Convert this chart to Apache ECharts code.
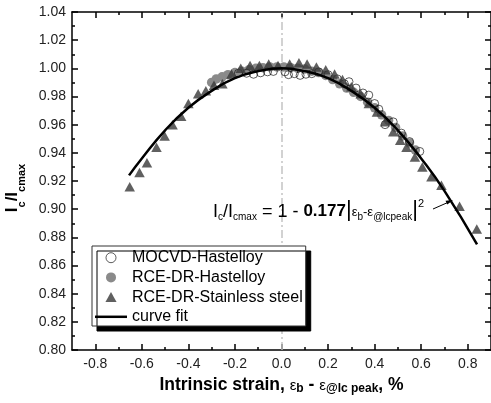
<!DOCTYPE html>
<html lang="en">
<head>
  <meta charset="UTF-8">
  <title>Ic/Icmax vs intrinsic strain</title>
  <script src="https://cdn.jsdelivr.net/npm/echarts@6/dist/echarts.min.js"></script>
  <style>
    html, body { margin: 0; padding: 0; background: #fff; }
    #main { width: 491px; height: 403px; }
  </style>
</head>
<body>
<div id="main"></div>
<script type="text/javascript">
  // [strain %, Ic/Icmax]
  var mocvdHast = [
    [-0.185, 0.9965], [-0.150, 0.9965], [-0.120, 0.9958], [-0.090, 0.9968], [-0.060, 0.9975],
    [-0.035, 0.9978], [0.015, 0.9975], [0.030, 0.9955], [0.055, 0.9962], [0.080, 0.9950],
    [0.105, 0.9958], [0.130, 0.9962], [0.160, 0.9975], [0.200, 0.9955], [0.240, 0.9925],
    [0.270, 0.9890], [0.290, 0.9905], [0.320, 0.9860], [0.350, 0.9825], [0.375, 0.9810],
    [0.400, 0.9750], [0.418, 0.9710], [0.445, 0.9600], [0.480, 0.9620], [0.515, 0.9540],
    [0.550, 0.9480], [0.594, 0.9410]
  ];
  var rceHast = [
    [-0.300, 0.9900], [-0.280, 0.9925], [-0.255, 0.9940], [-0.230, 0.9955], [-0.200, 0.9970],
    [-0.170, 0.9980], [-0.140, 0.9990], [-0.110, 1.0000], [-0.080, 1.0005], [-0.050, 1.0010],
    [-0.020, 1.0010], [0.010, 1.0010], [0.040, 1.0005], [0.070, 1.0000], [0.100, 0.9995],
    [0.130, 0.9980], [0.160, 0.9970], [0.190, 0.9950], [0.220, 0.9920], [0.250, 0.9890],
    [0.280, 0.9860], [0.310, 0.9830], [0.340, 0.9800], [0.370, 0.9760], [0.400, 0.9720],
    [0.430, 0.9670], [0.460, 0.9630], [0.490, 0.9580], [0.520, 0.9520], [0.550, 0.9470],
    [0.575, 0.9420]
  ];
  var rceSteel = [
    [-0.652, 0.916], [-0.610, 0.926], [-0.578, 0.933], [-0.537, 0.944], [-0.502, 0.952],
    [-0.468, 0.960], [-0.431, 0.966], [-0.400, 0.975], [-0.358, 0.982], [-0.325, 0.984],
    [-0.290, 0.988], [-0.254, 0.989], [-0.215, 0.996], [-0.175, 1.000], [-0.135, 1.002],
    [-0.095, 1.002], [-0.055, 1.003], [-0.015, 1.002], [0.035, 1.003], [0.075, 1.004],
    [0.110, 1.003], [0.150, 1.001], [0.190, 0.999], [0.228, 0.996], [0.262, 0.992],
    [0.300, 0.987], [0.340, 0.982], [0.375, 0.975], [0.410, 0.969], [0.445, 0.962],
    [0.480, 0.955], [0.510, 0.949], [0.537, 0.944], [0.573, 0.937], [0.605, 0.930],
    [0.644, 0.923], [0.687, 0.917], [0.765, 0.902], [0.839, 0.886]
  ];
  // curve fit
  var fitCurve = [
    [-0.655, 0.924], [-0.60, 0.936], [-0.50, 0.956], [-0.40, 0.972], [-0.30, 0.984],
    [-0.20, 0.993], [-0.10, 0.998], [0.00, 1.000], [0.10, 0.998], [0.20, 0.993],
    [0.30, 0.984], [0.40, 0.972], [0.50, 0.956], [0.60, 0.936], [0.70, 0.913],
    [0.84, 0.875]
  ];
  var seriesNames = ['MOCVD-Hastelloy', 'RCE-DR-Hastelloy', 'RCE-DR-Stainless steel', 'curve fit'];
  var xMajorTicks = [-0.8, -0.6, -0.4, -0.2, 0, 0.2, 0.4, 0.6, 0.8];
  var xMinorTicks = [-0.7, -0.5, -0.3, -0.1, 0.1, 0.3, 0.5, 0.7];

  var FONT = 'Liberation Sans, Arial, sans-serif';
  var axisCol = '#000';
  var steelCol = '#383838', hastCol = '#8a8a8a';

  function xAxisOf(pos, major, withLabels) {
    return {
      type: 'value', position: pos, min: -0.9, max: 0.9,
      axisLine: { show: major, onZero: false, lineStyle: { color: axisCol, width: 1.5 } },
      axisTick: {
        show: true, inside: true, length: major ? 6 : 3,
        customValues: major ? xMajorTicks : xMinorTicks,
        lineStyle: { color: axisCol, width: 1.5 }
      },
      axisLabel: {
        show: withLabels, customValues: xMajorTicks, margin: 7,
        fontFamily: FONT, fontSize: 14, color: '#222',
        formatter: function (v) { return v.toFixed(1); }
      },
      splitLine: { show: false }
    };
  }

  var xAxes = [
    xAxisOf('bottom', true, true),
    xAxisOf('bottom', false, false),
    xAxisOf('top', true, false),
    xAxisOf('top', false, false)
  ];
  xAxes[0].name = '{b|Intrinsic strain, }{e|ε}{s|b}{b| - }{e|ε}{s|@lc peak}{b|, %}';
  xAxes[0].nameLocation = 'middle';
  xAxes[0].nameGap = 24;
  xAxes[0].nameTextStyle = {
    rich: {
      b: { fontFamily: FONT, fontSize: 17.5, fontWeight: 'bold', color: '#000' },
      e: { fontFamily: FONT, fontSize: 15, color: '#000', padding: [2, 0, 0, 0] },
      s: { fontFamily: FONT, fontSize: 12, fontWeight: 'bold', color: '#000', padding: [8, 0, 0, 0] }
    }
  };

  function yAxisOf(pos, withLabels) {
    return {
      type: 'value', position: pos, min: 0.80, max: 1.04, interval: 0.02,
      axisLine: { show: true, onZero: false, lineStyle: { color: axisCol, width: 1.5 } },
      axisTick: { show: true, inside: true, length: 6, lineStyle: { color: axisCol, width: 1.5 } },
      minorTick: { show: true, splitNumber: 2, length: 3, lineStyle: { color: axisCol, width: 1.5 } },
      axisLabel: {
        show: withLabels, margin: 6, fontFamily: FONT, fontSize: 14, color: '#222',
        formatter: function (v) { return v.toFixed(2); }
      },
      splitLine: { show: false }
    };
  }

  var myChart = echarts.init(document.getElementById('main'));

  var option = {
    animation: false,
    backgroundColor: '#fff',
    grid: { left: 72, top: 12, width: 421, height: 338, containLabel: false },
    xAxis: xAxes,
    yAxis: [yAxisOf('left', true), yAxisOf('right', false)],
    legend: {
      orient: 'vertical', left: 92, top: 246,
      data: [
        { name: seriesNames[0], icon: 'circle',
          itemStyle: { color: '#fff', borderColor: '#000', borderWidth: 0.8 } },
        { name: seriesNames[1], icon: 'circle', itemStyle: { color: hastCol, borderWidth: 0 } },
        { name: seriesNames[2], icon: 'path://M0,9L5,0L10,9Z', itemStyle: { color: steelCol, borderWidth: 0 } },
        { name: seriesNames[3], icon: 'path://M0,0L32,0L32,2.5L0,2.5Z', itemStyle: { color: '#000', borderWidth: 0 } }
      ],
      itemWidth: 32, itemHeight: 10, itemGap: 3.7, itemTextGap: 3,
      padding: [3.7, 3, 1.2, 3],
      backgroundColor: '#fff', borderColor: '#333', borderWidth: 1,
      shadowColor: '#000', shadowBlur: 0, shadowOffsetX: 5, shadowOffsetY: 5,
      textStyle: { fontFamily: FONT, fontSize: 16, color: '#000' }
    },
    graphic: [
      {
        type: 'text', x: 12.5, y: 188, rotation: Math.PI / 2, z: 10,
        style: {
          text: '{b|I}{s|c}{b|/I}{s|cmax}',
          align: 'center', verticalAlign: 'middle',
          rich: {
            b: { fontFamily: FONT, fontSize: 17, fontWeight: 'bold', fill: '#000' },
            s: { fontFamily: FONT, fontSize: 11, fontWeight: 'bold', fill: '#000', padding: [19, 0, 0, 0] }
          }
        }
      },
      {
        type: 'text', x: 213, y: 211.7, z: 10,
        style: {
          text: '{m|I}{s|c}{m|/I}{s|cmax}{m| = 1 - }{k|0.177}{v||}{e|ε}{s|b}{e|-ε}{s|@lcpeak}{v||}{p|2}',
          align: 'left', verticalAlign: 'middle',
          rich: {
            m: { fontFamily: FONT, fontSize: 18, fill: '#000' },
            k: { fontFamily: FONT, fontSize: 17, fontWeight: 'bold', fill: '#000' },
            s: { fontFamily: FONT, fontSize: 10, fill: '#000', padding: [11, 0, 0, 0] },
            e: { fontFamily: FONT, fontSize: 13, fill: '#000', padding: [2, 0, 0, 0] },
            v: { fontFamily: FONT, fontSize: 22, fill: '#000', padding: [0, 0, 3, 0] },
            p: { fontFamily: FONT, fontSize: 11, fill: '#000', padding: [0, 0, 15, 0] }
          }
        }
      },
      {
        type: 'line', z: 10,
        shape: { x1: 433, y1: 209, x2: 450, y2: 201.5 },
        style: { stroke: '#000', lineWidth: 1 }
      },
      {
        type: 'polygon', z: 10,
        shape: { points: [[453, 200], [445.5, 200.8], [447.3, 204.5]] },
        style: { fill: '#000' }
      }
    ],
    series: [
      {
        name: seriesNames[1], type: 'scatter', data: rceHast, z: 2,
        symbol: 'circle', symbolSize: 9.5,
        itemStyle: { color: hastCol, opacity: 1 }
      },
      {
        name: seriesNames[0], type: 'scatter', data: mocvdHast, z: 3,
        symbol: 'circle', symbolSize: 8,
        itemStyle: { color: 'rgba(255,255,255,0)', borderColor: '#000', borderWidth: 0.8 }
      },
      {
        name: seriesNames[2], type: 'scatter', data: rceSteel, z: 4,
        symbol: 'triangle', symbolSize: [10.5, 9.5],
        itemStyle: { color: steelCol }
      },
      {
        name: seriesNames[3], type: 'line', data: fitCurve, z: 5,
        smooth: true, showSymbol: false, symbol: 'none',
        lineStyle: { color: '#000', width: 2.5 },
        markLine: {
          silent: true, symbol: 'none', z: 1,
          label: { show: false },
          lineStyle: { color: '#c4c4c4', width: 1.5, type: [8, 3, 2, 3] },
          data: [{ xAxis: 0 }]
        }
      }
    ]
  };

  myChart.setOption(option);
</script>
</body>
</html>
